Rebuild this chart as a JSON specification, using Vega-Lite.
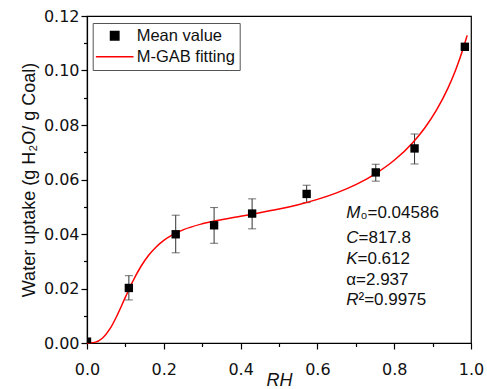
{
  "$schema": "https://vega.github.io/schema/vega-lite/v6.json",
  "width": 384,
  "height": 327,
  "autosize": {"type": "none"},
  "padding": {"left": 87, "top": 16, "right": 16, "bottom": 46},
  "config": {
    "view": {"stroke": "#000", "strokeWidth": 1.2},
    "font": "Liberation Sans",
    "axis": {
      "grid": false,
      "domainColor": "#000",
      "domainWidth": 1.2,
      "tickColor": "#000",
      "tickWidth": 1.2,
      "labelFont": "DejaVu Sans",
      "labelFontSize": 16,
      "labelColor": "#111",
      "labelFlush": false,
      "labelOverlap": false,
      "labelBound": false,
      "titleFont": "Liberation Sans",
      "titleFontSize": 18,
      "titleFontWeight": "normal",
      "titleColor": "#111"
    },
    "legend": {
      "orient": "none", "legendX": 5.7, "legendY": 7, "title": null,
      "padding": 4.5, "strokeColor": "#555", "fillColor": "#fff",
      "labelFont": "Liberation Sans", "labelFontSize": 16.5, "labelColor": "#111",
      "rowPadding": 4, "labelOffset": 23, "symbolSize": 70, "symbolStrokeWidth": 1.5
    }
  },
  "datasets": {
    "points": [
      {"RH": 0.0, "uptake": 0.0005, "lo": null, "hi": null, "series": "Mean value"},
      {"RH": 0.109, "uptake": 0.0202, "lo": 0.0158, "hi": 0.0247, "series": "Mean value"},
      {"RH": 0.231, "uptake": 0.0399, "lo": 0.0331, "hi": 0.0469, "series": "Mean value"},
      {"RH": 0.331, "uptake": 0.0432, "lo": 0.0366, "hi": 0.0497, "series": "Mean value"},
      {"RH": 0.430, "uptake": 0.0475, "lo": 0.0419, "hi": 0.0529, "series": "Mean value"},
      {"RH": 0.572, "uptake": 0.0547, "lo": 0.0515, "hi": 0.0579, "series": "Mean value"},
      {"RH": 0.752, "uptake": 0.0626, "lo": 0.0594, "hi": 0.0656, "series": "Mean value"},
      {"RH": 0.853, "uptake": 0.0714, "lo": 0.0657, "hi": 0.0767, "series": "Mean value"},
      {"RH": 0.984, "uptake": 0.1087, "lo": null, "hi": null, "series": "Mean value"}
    ],
    "fit": [
      {"RH": 0.00, "uptake": 0.0, "series": "M-GAB fitting"},
      {"RH": 0.02, "uptake": 0.00023, "series": "M-GAB fitting"},
      {"RH": 0.04, "uptake": 0.00173, "series": "M-GAB fitting"},
      {"RH": 0.06, "uptake": 0.00524, "series": "M-GAB fitting"},
      {"RH": 0.08, "uptake": 0.01060, "series": "M-GAB fitting"},
      {"RH": 0.10, "uptake": 0.01683, "series": "M-GAB fitting"},
      {"RH": 0.12, "uptake": 0.02284, "series": "M-GAB fitting"},
      {"RH": 0.14, "uptake": 0.02798, "series": "M-GAB fitting"},
      {"RH": 0.16, "uptake": 0.03208, "series": "M-GAB fitting"},
      {"RH": 0.18, "uptake": 0.03525, "series": "M-GAB fitting"},
      {"RH": 0.20, "uptake": 0.03766, "series": "M-GAB fitting"},
      {"RH": 0.22, "uptake": 0.03950, "series": "M-GAB fitting"},
      {"RH": 0.25, "uptake": 0.04153, "series": "M-GAB fitting"},
      {"RH": 0.30, "uptake": 0.04375, "series": "M-GAB fitting"},
      {"RH": 0.35, "uptake": 0.04526, "series": "M-GAB fitting"},
      {"RH": 0.40, "uptake": 0.04653, "series": "M-GAB fitting"},
      {"RH": 0.45, "uptake": 0.04778, "series": "M-GAB fitting"},
      {"RH": 0.50, "uptake": 0.04915, "series": "M-GAB fitting"},
      {"RH": 0.55, "uptake": 0.05076, "series": "M-GAB fitting"},
      {"RH": 0.60, "uptake": 0.05270, "series": "M-GAB fitting"},
      {"RH": 0.65, "uptake": 0.05511, "series": "M-GAB fitting"},
      {"RH": 0.70, "uptake": 0.05814, "series": "M-GAB fitting"},
      {"RH": 0.75, "uptake": 0.06201, "series": "M-GAB fitting"},
      {"RH": 0.80, "uptake": 0.06705, "series": "M-GAB fitting"},
      {"RH": 0.85, "uptake": 0.07379, "series": "M-GAB fitting"},
      {"RH": 0.88, "uptake": 0.07900, "series": "M-GAB fitting"},
      {"RH": 0.91, "uptake": 0.08543, "series": "M-GAB fitting"},
      {"RH": 0.94, "uptake": 0.09354, "series": "M-GAB fitting"},
      {"RH": 0.96, "uptake": 0.10021, "series": "M-GAB fitting"},
      {"RH": 0.98, "uptake": 0.10825, "series": "M-GAB fitting"},
      {"RH": 0.99, "uptake": 0.11290, "series": "M-GAB fitting"}
    ],
    "annot": [
      {"RH": 0.675, "uptake": 0.0460, "sym": "M", "rest": "₀=0.04586"},
      {"RH": 0.675, "uptake": 0.0366, "sym": "C", "rest": "=817.8"},
      {"RH": 0.675, "uptake": 0.0290, "sym": "K", "rest": "=0.612"},
      {"RH": 0.675, "uptake": 0.0214, "sym": "", "rest": "α=2.937"},
      {"RH": 0.675, "uptake": 0.0139, "sym": "R", "rest": "²=0.9975"}
    ]
  },
  "encoding": {
    "x": {
      "field": "RH",
      "type": "quantitative",
      "scale": {"domain": [0, 1], "nice": false},
      "axis": {
        "values": [0, 0.1, 0.2, 0.3, 0.4, 0.5, 0.6, 0.7, 0.8, 0.9, 1.0],
        "labelExpr": "round(datum.value*10) % 2 == 0 ? format(datum.value, '.1f') : ''",
        "tickSize": {"condition": {"test": "round(datum.value*10) % 2 == 0", "value": 6}, "value": 3.5},
        "labelPadding": 12,
        "title": "RH",
        "titleFontStyle": "italic",
        "titlePadding": -6
      }
    },
    "y": {
      "field": "uptake",
      "type": "quantitative",
      "scale": {"domain": [0, 0.12], "nice": false},
      "axis": {
        "values": [0, 0.01, 0.02, 0.03, 0.04, 0.05, 0.06, 0.07, 0.08, 0.09, 0.10, 0.11, 0.12],
        "labelExpr": "round(datum.value*100) % 2 == 0 ? format(datum.value, '.2f') : ''",
        "tickSize": {"condition": {"test": "round(datum.value*100) % 2 == 0", "value": 6}, "value": 3.5},
        "labelPadding": 2,
        "title": "Water uptake (g H₂O/ g Coal)",
        "titlePadding": 5
      }
    }
  },
  "layer": [
    {
      "data": {"name": "points"},
      "transform": [{"filter": "isValid(datum.lo)"}],
      "mark": {"type": "rule", "color": "#333", "strokeWidth": 1},
      "encoding": {
        "y": {"field": "lo", "type": "quantitative", "title": "Water uptake (g H₂O/ g Coal)"},
        "y2": {"field": "hi"}
      }
    },
    {
      "data": {"name": "points"},
      "transform": [{"filter": "isValid(datum.lo)"}],
      "mark": {"type": "tick", "orient": "horizontal", "size": 8, "thickness": 1, "color": "#333"},
      "encoding": {
        "y": {"field": "lo", "type": "quantitative", "title": "Water uptake (g H₂O/ g Coal)"}
      }
    },
    {
      "data": {"name": "points"},
      "transform": [{"filter": "isValid(datum.hi)"}],
      "mark": {"type": "tick", "orient": "horizontal", "size": 8, "thickness": 1, "color": "#333"},
      "encoding": {
        "y": {"field": "hi", "type": "quantitative", "title": "Water uptake (g H₂O/ g Coal)"}
      }
    },
    {
      "data": {"name": "fit"},
      "mark": {"type": "line", "strokeWidth": 1.5, "interpolate": "monotone"},
      "encoding": {
        "color": {
          "field": "series",
          "type": "nominal",
          "scale": {"domain": ["Mean value", "M-GAB fitting"], "range": ["#000000", "#ff0000"]},
          "legend": {
            "encode": {"symbols": {"update": {
              "x": {"value": 17.5},
              "fill": {"signal": "datum.value === 'Mean value' ? '#000' : 'transparent'"},
              "stroke": {"signal": "datum.value === 'Mean value' ? 'transparent' : '#ff0000'"},
              "strokeWidth": {"value": 1.5}
            }}}
          }
        }
      }
    },
    {
      "data": {"name": "points"},
      "mark": {"type": "point", "filled": true, "size": 70, "opacity": 1, "clip": true},
      "encoding": {
        "color": {
          "field": "series",
          "type": "nominal",
          "scale": {"domain": ["Mean value", "M-GAB fitting"], "range": ["#000000", "#ff0000"]},
          "legend": {
            "encode": {"symbols": {"update": {
              "x": {"value": 17.5},
              "fill": {"signal": "datum.value === 'Mean value' ? '#000' : 'transparent'"},
              "stroke": {"signal": "datum.value === 'Mean value' ? 'transparent' : '#ff0000'"},
              "strokeWidth": {"value": 1.5}
            }}}
          }
        },
        "shape": {
          "field": "series",
          "type": "nominal",
          "scale": {"domain": ["Mean value", "M-GAB fitting"], "range": ["square", "M-4.5,0H4.5"]},
          "legend": {
            "encode": {"symbols": {"update": {
              "x": {"value": 17.5},
              "fill": {"signal": "datum.value === 'Mean value' ? '#000' : 'transparent'"},
              "stroke": {"signal": "datum.value === 'Mean value' ? 'transparent' : '#ff0000'"},
              "strokeWidth": {"value": 1.5}
            }}}
          }
        }
      }
    },
    {
      "data": {"name": "annot"},
      "mark": {"type": "text", "align": "left", "baseline": "alphabetic", "font": "Liberation Sans", "fontSize": 17, "fontStyle": "italic", "color": "#111"},
      "encoding": {"text": {"field": "sym"}}
    },
    {
      "data": {"name": "annot"},
      "transform": [{"filter": "datum.sym == 'M'"}],
      "mark": {"type": "text", "align": "left", "baseline": "alphabetic", "font": "Liberation Sans", "fontSize": 17, "dx": 14.2, "color": "#111"},
      "encoding": {"text": {"field": "rest"}}
    },
    {
      "data": {"name": "annot"},
      "transform": [{"filter": "datum.sym == 'C' || datum.sym == 'R'"}],
      "mark": {"type": "text", "align": "left", "baseline": "alphabetic", "font": "Liberation Sans", "fontSize": 17, "dx": 12.3, "color": "#111"},
      "encoding": {"text": {"field": "rest"}}
    },
    {
      "data": {"name": "annot"},
      "transform": [{"filter": "datum.sym == 'K'"}],
      "mark": {"type": "text", "align": "left", "baseline": "alphabetic", "font": "Liberation Sans", "fontSize": 17, "dx": 11.3, "color": "#111"},
      "encoding": {"text": {"field": "rest"}}
    },
    {
      "data": {"name": "annot"},
      "transform": [{"filter": "datum.sym == ''"}],
      "mark": {"type": "text", "align": "left", "baseline": "alphabetic", "font": "Liberation Sans", "fontSize": 17, "color": "#111"},
      "encoding": {"text": {"field": "rest"}}
    }
  ]
}
